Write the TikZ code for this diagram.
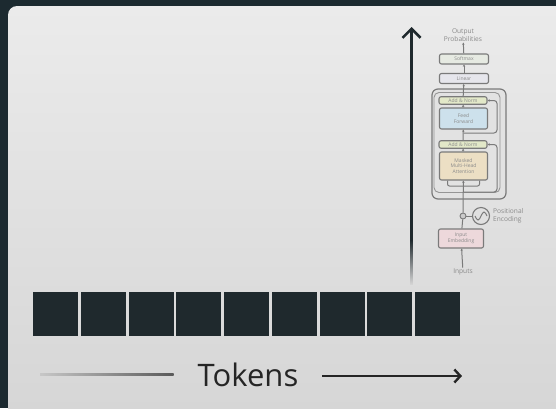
\documentclass[tikz,border=0pt]{standalone}
\usepackage{fontspec}
\setmainfont{Open Sans}
\usetikzlibrary{arrows.meta, positioning, backgrounds, calc}
\definecolor{frameink}{HTML}{1C2A30}
\definecolor{paneltop}{HTML}{EBEBEB}
\definecolor{panelbot}{HTML}{D4D4D4}
\definecolor{tokenink}{HTML}{1F292D}
\definecolor{tokentext}{HTML}{252525}
\definecolor{tfgray}{HTML}{7A7A7A}
\definecolor{tftxt}{HTML}{8A8A8A}
\definecolor{tfgreen}{HTML}{E2E8C8}
\definecolor{tfblue}{HTML}{CDE1EC}
\definecolor{tfsand}{HTML}{ECDFC4}
\definecolor{tfpink}{HTML}{EDD8DB}
\definecolor{tfsoft}{HTML}{E6EAE2}
\definecolor{tflin}{HTML}{E6E6EC}
\tikzset{
  tokenbox/.style={fill=tokenink, minimum width=45pt, minimum height=43.5pt, inner sep=0pt},
  tokenlabel/.style={font=\fontsize{31}{36}\selectfont, text=tokentext, inner sep=0pt},
  tokarrow/.style={-{Straight Barb[length=6pt,width=13pt]}, line width=2.4pt, draw=tokentext},
  uparrow/.style={-{Straight Barb[length=9pt,width=18pt]}, line width=2.6pt, draw=tokenink},
  tfbox/.style={draw=tfgray, line width=1.1pt, rounded corners=2pt, inner sep=0pt, align=center,
    font=\fontsize{5}{5.8}\selectfont, text=tftxt, minimum width=48pt},
  addnorm/.style={tfbox, fill=tfgreen, minimum height=7.5pt},
  ffbox/.style={tfbox, fill=tfblue, minimum height=21pt},
  mhabox/.style={tfbox, fill=tfsand, minimum height=28pt},
  embbox/.style={tfbox, fill=tfpink, minimum width=45pt, minimum height=19pt},
  headbox/.style={tfbox, minimum width=49pt, minimum height=10pt},
  tftext/.style={font=\fontsize{6.6}{7.8}\selectfont, text=tftxt, align=center, inner sep=1pt},
  blockouter/.style={draw=tfgray, line width=1.2pt, rounded corners=6pt, fill=paneltop!60!panelbot},
  blockinner/.style={draw=tfgray!80, line width=0.9pt, rounded corners=5pt},
  tfline/.style={draw=tfgray, line width=1pt},
  tfflow/.style={tfline, -{Stealth[length=2.2pt,width=2.4pt]}}
}

\begin{document}
\begin{tikzpicture}[x=1pt, y=-1pt]
  \useasboundingbox (0,0) rectangle (556,408);

  % screen frame and slide panel
  \begin{pgfonlayer}{background}
    \fill[frameink] (0,0) rectangle (556,408);
    \shade[top color=paneltop, bottom color=panelbot, rounded corners=9pt]
      (8,6) rectangle (600,450);
  \end{pgfonlayer}

  % token row
  \foreach \i in {1,...,9}
    \node[tokenbox] (tok\i) at ({55.8+(\i-1)*47.7},314) {};

  \node[tokenlabel] (tokens) at (248,375) {Tokens};
  \coordinate (tokl) at (40,374.5);
  \coordinate (tokr) at (462,376);
  \shade[left color=panelbot!85!gray, right color=gray!70!black]
    ($(tokl)+(0,-1.3)$) rectangle ($(tokens.west |- tokl)+(-24,1.3)$);
  \draw[tokarrow] ([xshift=24pt]tokens.east |- tokr) -- (tokr);

  % vertical arrow
  \coordinate (upbot) at (411.5,240);
  \coordinate (uptop) at (411.5,27);
  \shade[top color=tokenink, bottom color=panelbot]
    ($(upbot)+(-1.3,0)$) rectangle ($(upbot)+(1.3,44)$);
  \draw[uparrow] (upbot) -- (uptop);

  % transformer block
  \node[tftext] (outprob) at (463,35) {Output\\Probabilities};
  \node[headbox, fill=tfsoft] (softmax) at (464,59) {Softmax};
  \node[headbox, fill=tflin] (linear) at (464,78.5) {Linear};
  \node[addnorm] (an2) at (463,100.5) {Add \& Norm};
  \node[ffbox] (ff) at (463.5,118.5) {Feed\\Forward};
  \node[addnorm] (an1) at (463,144.5) {Add \& Norm};
  \node[mhabox] (mha) at (463.5,166) {Masked\\Multi-Head\\Attention};
  \node[embbox] (emb) at (461,238.5) {Input\\Embedding};
  \node[tftext] (inputs) at (463,272) {Inputs};

  \begin{pgfonlayer}{background}
    \node[blockouter, minimum width=74pt, minimum height=110pt] (block) at (469,144) {};
    \node[blockinner, minimum width=66pt, minimum height=100pt] (blockin) at (467,142.5) {};
  \end{pgfonlayer}

  \node[draw=tfgray, line width=0.9pt, circle, fill=tfgray!40, inner sep=0pt,
    minimum size=6pt] (plus) at (463,216) {};
  \node[draw=tfgray, line width=1.1pt, circle, inner sep=0pt, minimum size=17pt] (pe) at (481,216) {};
  \draw[tfgray, line width=1pt] ([xshift=-6pt]pe.center)
    sin ([xshift=-3pt,yshift=-4pt]pe.center) cos (pe.center)
    sin ([xshift=3pt,yshift=4pt]pe.center) cos ([xshift=6pt]pe.center);
  \node[tftext, anchor=west, align=left] (petext) at (492,216) {Positional\\Encoding};

  \draw[tfflow] (inputs) -- (emb);
  \draw[tfline] (emb) -- (plus);
  \draw[tfline] (pe) -- (plus);
  \draw[tfflow] (plus) -- (mha);
  \draw[tfflow] (mha) -- (an1);
  \draw[tfflow] (an1) -- (ff);
  \draw[tfflow] (ff) -- (an2);
  \draw[tfflow] (an2) -- (linear);
  \draw[tfflow] (linear) -- (softmax);
  \draw[tfflow] (softmax) -- (outprob);

  % residual paths
  \coordinate (fork) at (463,186);
  \draw[tfline, rounded corners=2pt] ([xshift=-16pt]mha.south) |- (fork) -| ([xshift=16pt]mha.south);
  \coordinate (res1) at (497,192);
  \draw[tfflow, rounded corners=3pt] (res1 -| mha.south) -- (res1) |- (an1.east);
  \coordinate (res2) at (497,133);
  \draw[tfflow, rounded corners=3pt] (res2 -| ff.south) -- (res2) |- (an2.east);
\end{tikzpicture}
\end{document}
